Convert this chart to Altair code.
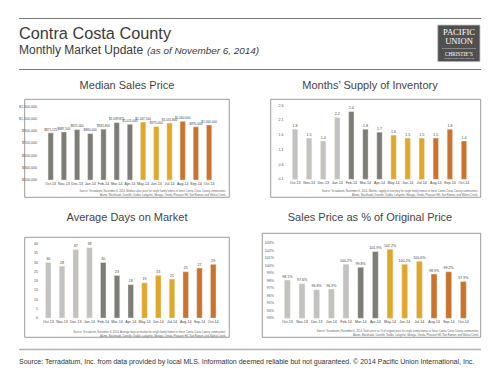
import altair as alt
import pandas as pd

# ---------------- data ----------------
months = ["Oct-13", "Nov-13", "Dec-13", "Jan-14", "Feb-14", "Mar-14", "Apr-14",
          "May-14", "Jun-14", "Jul-14", "Aug-14", "Sep-14", "Oct-14"]

median_price = [871125, 887500, 925000, 860000, 931850, 1039875, 1011000,
                1047500, 975000, 1031800, 1060000, 970000, 1000000]
supply = [1.8, 1.5, 1.4, 2.2, 2.4, 1.8, 1.7, 1.6, 1.5, 1.5, 1.5, 1.8, 1.4]
days = [30, 28, 37, 38, 30, 23, 18, 19, 23, 21, 25, 27, 29]
pct_orig = [0.981, 0.976, 0.968, 0.969, 1.002, 0.998, 1.019,
            1.022, 1.002, 1.006, 0.989, 0.992, 0.979]

median_groups = ["dark"] * 7 + ["gold"] * 3 + ["orange"] * 3
supply_groups = ["light"] * 4 + ["dark"] * 3 + ["gold"] * 3 + ["orange"] * 3
days_groups = ["light"] * 4 + ["dark"] * 3 + ["gold"] * 3 + ["orange"] * 3
pct_groups = ["light"] * 5 + ["dark"] * 2 + ["gold"] * 3 + ["orange"] * 3

median_ticks = [100000, 300000, 500000, 700000, 900000, 1100000, 1300000]
supply_ticks = [0.1, 0.6, 1.1, 1.6, 2.1, 2.6]
days_ticks = [0, 5, 10, 15, 20, 25, 30, 35, 40]
pct_ticks = [0.93, 0.94, 0.95, 0.96, 0.97, 0.98, 0.99, 1.00, 1.01, 1.02, 1.03]

group_names = ["light", "dark", "gold", "orange"]
group_colors = ["#c2c2c2", "#7d7d78", "#e0a82b", "#c9732e"]

line2 = "Alamo, Blackhawk, Danville, Diablo, Lafayette, Moraga, Orinda, Pleasant Hill, San Ramon, and Walnut Creek."
src_median = ["Source: Terradatum, November 6, 2014. Median sales price for single family homes in these Contra Costa County communities:", line2]
src_supply = ["Source: Terradatum, November 6, 2014. Months' supply of inventory for single family homes in these Contra Costa County communities:", line2]
src_days = ["Source: Terradatum, November 6, 2014. Average days on market for single family homes in these Contra Costa County communities:", line2]
src_pct = ["Source: Terradatum, November 6, 2014. Sales price as % of original price for single family homes in these Contra Costa County communities:", line2]

FONT = "Liberation Sans"
one = pd.DataFrame({"a": [0]})


def panel(values, groups, ticks, domain, yrange, xrange, pin, vfmt, tfmt,
          tick_x, month_y, box, src, src_x, src_y, title, title_xy, vsize=3.6):
    df = pd.DataFrame({"month": months, "value": values, "grp": groups})
    tdf = pd.DataFrame({"t": ticks})
    xs = alt.Scale(domain=months, range=xrange, paddingInner=pin, paddingOuter=pin / 2)
    ys = alt.Scale(domain=domain, range=yrange, zero=False, nice=False)
    X = alt.X("month:N", sort=months, scale=xs, axis=None)

    frame = alt.Chart(one).mark_rect(fillOpacity=0, stroke="#9c9c9c", strokeWidth=1).encode(
        x=alt.value(box[0]), x2=alt.value(box[1]), y=alt.value(box[2]), y2=alt.value(box[3]))
    bars = alt.Chart(df).mark_bar(stroke="#f3ead8", strokeWidth=0.4).encode(
        x=X,
        y=alt.Y("value:Q", scale=ys, axis=None),
        y2=alt.datum(domain[0]),
        color=alt.Color("grp:N", scale=alt.Scale(domain=group_names, range=group_colors), legend=None),
    )
    labels = alt.Chart(df).mark_text(fontSize=vsize, dy=-3.5, color="#444", font=FONT).encode(
        x=X, y=alt.Y("value:Q", scale=ys, axis=None), text=alt.Text("value:Q", format=vfmt))
    tlabels = alt.Chart(tdf).mark_text(fontSize=3.6, align="right", baseline="middle", color="#555", font=FONT).encode(
        y=alt.Y("t:Q", scale=ys, axis=None), x=alt.value(tick_x), text=alt.Text("t:Q", format=tfmt))
    mlabels = alt.Chart(df).mark_text(fontSize=3.6, baseline="middle", color="#444", font=FONT).encode(
        x=X, y=alt.value(month_y), text="month:N")
    source = alt.Chart(one).mark_text(fontSize=2.6, align="right", baseline="middle", color="#666",
                                      font=FONT, lineBreak="\n", lineHeight=4).encode(
        x=alt.value(src_x), y=alt.value(src_y), text=alt.value("\n".join(src)))
    ttl = alt.Chart(one).mark_text(fontSize=11, align="center", baseline="middle", color="#444", font=FONT).encode(
        x=alt.value(title_xy[0]), y=alt.value(title_xy[1]), text=alt.value(title))
    return alt.layer(frame, bars, labels, tlabels, mlabels, source, ttl)


p1 = panel(median_price, median_groups, median_ticks, [100000, 1300000], [180, 106.7],
           [44.1, 215.7], 0.6, "$,.0f", "$,.0f", 37, 184,
           (24.7, 229.3, 99.3, 197.3), src_median, 226, 191.3, "Median Sales Price", (127, 86), vsize=3.1)
p2 = panel(supply, supply_groups, supply_ticks, [0.1, 2.6], [179.3, 105.7],
           [288, 471], 0.62, ".1f", ".1f", 283.5, 183.3,
           (270.7, 480.7, 99.3, 197.3), src_supply, 478, 191.3, "Months\u2019 Supply of Inventory", (370, 86))
p3 = panel(days, days_groups, days_ticks, [0, 40], [318, 244],
           [41.4, 220.1], 0.6, "d", "d", 38, 322.3,
           (24.7, 229.3, 237.3, 337.3), src_days, 226, 331.7, "Average Days on Market", (127, 217.7))
p4 = panel(pct_orig, pct_groups, pct_ticks, [0.93, 1.03], [318.3, 243.3],
           [280, 470.7], 0.6, ".1%", ".0%", 274, 321.7,
           (262.3, 480.7, 233.3, 337.3), src_pct, 479, 331.3, "Sales Price as % of Original Price", (370, 217.7))

# ---------------- header / footer ----------------
def rule(x1, x2, y, color, w):
    return alt.Chart(one).mark_rule(color=color, strokeWidth=w).encode(
        x=alt.value(x1), x2=alt.value(x2), y=alt.value(y))


def txt(s, x, y, size, color="#3a3a3a", align="left", baseline="alphabetic", font=FONT, style="normal", weight="normal"):
    return alt.Chart(one).mark_text(fontSize=size, color=color, align=align, baseline=baseline,
                                    font=font, fontStyle=style, fontWeight=weight).encode(
        x=alt.value(x), y=alt.value(y), text=alt.value(s))


header = [
    rule(19, 481, 18.5, "#7a7a7a", 1.2),
    rule(19, 481, 69.5, "#7a7a7a", 1.2),
    txt("Contra Costa County", 19, 38.8, 16.3),
    txt("Monthly Market Update", 19, 54, 12),
    txt("(as of November 6, 2014)", 147, 54, 9.9, style="italic"),
    alt.Chart(one).mark_rect(fill="#505050", stroke="#c8c8c8", strokeWidth=0.8).encode(
        x=alt.value(437.7), x2=alt.value(480), y=alt.value(25), y2=alt.value(61.7)),
    txt("PACIFIC", 459, 34.8, 8.6, color="#ffffff", align="center", font="Liberation Serif"),
    txt("UNION", 459, 43.5, 8.6, color="#ffffff", align="center", font="Liberation Serif"),
    rule(442, 476, 48.5, "#bdbdbd", 0.5),
    txt("CHRISTIE\u2019S", 459, 56, 5.2, color="#ffffff", align="center", font="Liberation Serif"),
    txt("INTERNATIONAL REAL ESTATE", 459, 59.3, 2.0, color="#dddddd", align="center"),
    rule(19, 481, 349.5, "#b3b3b3", 1.5),
    txt("Source: Terradatum, Inc. from data provided by local MLS. Information deemed reliable but not guaranteed.  \u00a9 2014 Pacific Union International, Inc.",
        19, 361.7, 7, color="#333333", baseline="middle"),
]

chart = alt.layer(*header, p1, p2, p3, p4).resolve_scale(
    x="independent", y="independent"
).properties(
    width=500, height=375, padding=0, autosize=alt.AutoSizeParams(type="none")
).configure_view(stroke=None)

chart.save("out.html", embed_options={"renderer": "svg", "actions": False})
